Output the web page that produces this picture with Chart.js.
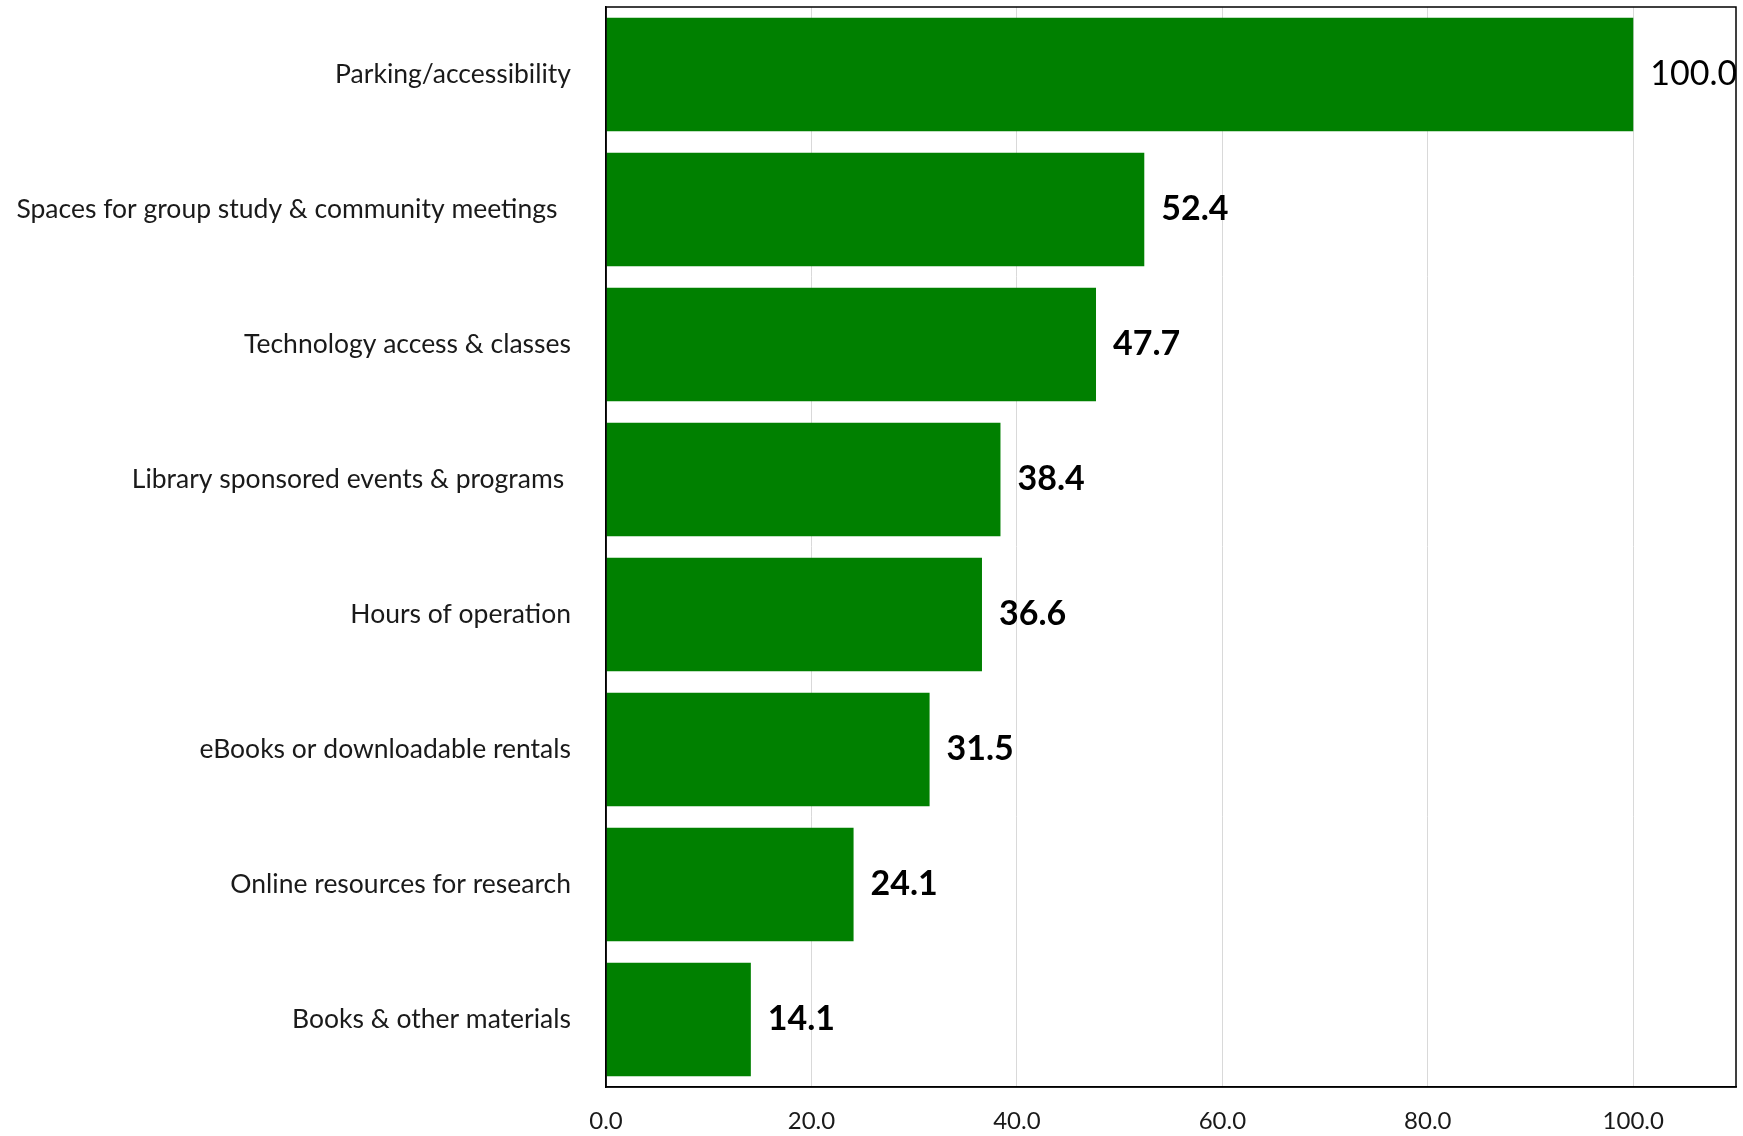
<!DOCTYPE html>
<html>
<head>
<meta charset="utf-8">
<script src="https://cdn.jsdelivr.net/npm/chart.js@4.4.1/dist/chart.umd.min.js"></script>
<style>
  html, body { margin: 0; padding: 0; background: #fff; }
  #wrap { width: 1743px; height: 1136px; }
</style>
</head>
<body>
<div id="wrap"><canvas id="barCanvas" width="1743" height="1136"></canvas></div>
<script>
///// données du graphique
let categories = [
    "Parking/accessibility",
    "Spaces for group study & community meetings  ",
    "Technology access & classes",
    "Library sponsored events & programs ",
    "Hours of operation",
    "eBooks or downloadable rentals",
    "Online resources for research",
    "Books & other materials"
];
let valeurs = [100.0, 52.4, 47.7, 38.4, 36.6, 31.5, 24.1, 14.1];
let xTicks = [0, 20, 40, 60, 80, 100];

///// étiquettes de valeur + cadre du graphique
let labelsPlugin = {
    id: "valueLabels",
    afterDatasetsDraw(chart) {
        let ctx = chart.ctx;
        let a = chart.chartArea;
        let meta = chart.getDatasetMeta(0);
        ctx.save();
        ctx.beginPath();
        ctx.rect(a.left, a.top, a.right - a.left, a.bottom - a.top);
        ctx.clip();
        ctx.fillStyle = "#000";
        ctx.textBaseline = "middle";
        ctx.textAlign = "left";
        meta.data.forEach((bar, i) => {
            let v = valeurs[i];
            ctx.font = (v >= 100 ? "" : "bold ") + "34px Lato";
            ctx.fillText(v.toFixed(1), bar.x + 17, bar.y);
        });
        ctx.restore();
        // cadre
        ctx.save();
        ctx.strokeStyle = "#000";
        ctx.lineWidth = 1.5;
        ctx.strokeRect(a.left, a.top, a.right - a.left, a.bottom - a.top);
        ctx.restore();
    }
};

let graph = document.getElementById("barCanvas");
let barChart = new Chart(graph, {
    type: "bar",
    data: {
        labels: categories,
        datasets: [{
            data: valeurs,
            backgroundColor: "#008000",
            barPercentage: 0.84,
            categoryPercentage: 1.0
        }]
    },
    options: {
        indexAxis: "y",
        responsive: false,
        animation: false,
        layout: { padding: { top: 7, right: 7, left: 0, bottom: 0 } },
        plugins: {
            legend: { display: false },
            tooltip: { enabled: false }
        },
        scales: {
            x: {
                min: 0,
                max: 110,
                afterFit(scale) { scale.height = 49; },
                afterBuildTicks(scale) { scale.ticks = xTicks.map(v => ({ value: v })); },
                grid: { color: "#d9d9d9", lineWidth: 1, drawTicks: false },
                border: { display: true, color: "#000", width: 1.5 },
                ticks: {
                    padding: 20,
                    color: "#1a1a1a",
                    callback: v => Number(v).toFixed(1),
                    font: { family: "Lato", size: 24 }
                }
            },
            y: {
                afterFit(scale) {
                    scale.width = 606;
                    scale.paddingTop = 0;
                    scale.paddingBottom = 0;
                },
                grid: { display: false, drawTicks: true, tickLength: 35 },
                border: { display: true, color: "#000", width: 1.5 },
                ticks: {
                    padding: 0,
                    color: "#1a1a1a",
                    font: { family: "Lato", size: 26.5 }
                }
            }
        }
    },
    plugins: [labelsPlugin]
});
</script>
</body>
</html>
